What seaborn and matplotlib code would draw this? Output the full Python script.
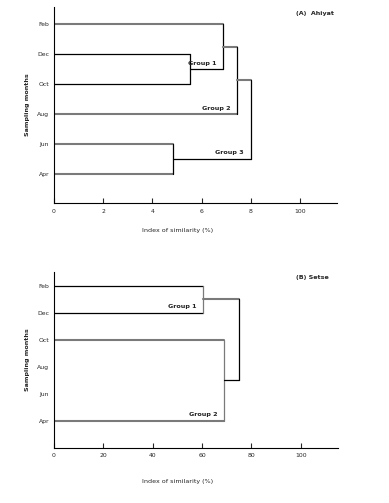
import numpy as np
import pandas as pd
import matplotlib
matplotlib.use("Agg")
import matplotlib.pyplot as plt
import seaborn as sns

sns.set_theme(style="ticks")
plt.rcParams['font.family'] = ['DejaVu Sans']

# sampling months, top to bottom
months = ["Feb", "Dec", "Oct", "Aug", "Jun", "Apr"]

# x axis ticks (similarity %) and their printed labels
x_ticks = [0, 20, 40, 60, 80, 100]
ahiyat_tick_labels = ["0", "2", "4", "6", "8", "100"]
setse_tick_labels = ["0", "20", "40", "60", "80", "100"]

# merges: (node name, children, similarity level)
ahiyat_links = [
    ("g1a", ["Dec", "Oct"], 55.2),
    ("Group 1", ["Feb", "g1a"], 68.7),
    ("Group 2", ["Group 1", "Aug"], 74.4),
    ("g3a", ["Jun", "Apr"], 48.4),
    ("Group 3", ["Group 2", "g3a"], 80.0),
]
setse_links = [
    ("Group 1", ["Feb", "Dec"], 60.5),
    ("Group 2", ["Oct", "Apr"], 69.1),
    ("top", ["Group 1", "Group 2"], 74.8),
]

# branches drawn in grey (the rest are black)
ahiyat_grey = ["Feb", "Aug", "Jun", "Apr", "Group 1", "Group 2"]
setse_grey = ["Oct", "Apr", "Group 1", "v:Group 2", "v:Group 1"]

GREY = "#7a7a7a"


def draw_dendro(ax, links, grey, tick_labels, title, title_x):
    ypos = {m: len(months) - 1 - i for i, m in enumerate(months)}
    xpos = {m: 0.0 for m in months}
    for name, kids, h in links:
        ys = [ypos[k] for k in kids]
        for k in kids:
            col = GREY if k in grey else "black"
            lw = 1.5 if k in grey else 0.9
            sns.lineplot(x=[xpos[k], h], y=[ypos[k], ypos[k]], ax=ax,
                         color=col, lw=lw, sort=False, estimator=None)
        vcol = GREY if ("v:" + name) in grey else "black"
        sns.lineplot(x=[h, h], y=[min(ys), max(ys)], ax=ax, color=vcol,
                     lw=0.9, sort=False, estimator=None)
        ypos[name] = np.mean(ys)
        xpos[name] = h
        if name.startswith("Group"):
            ax.annotate(name, (h, min(ys)), xytext=(-5, 2.5),
                        textcoords="offset points", ha="right", va="bottom",
                        fontsize=4.6, fontweight="bold", color="#222222")

    ax.set_xlim(0, 115)
    ax.set_xticks(x_ticks)
    ax.set_xticklabels(tick_labels)
    ax.set_yticks([ypos[m] for m in months])
    ax.set_yticklabels(months)
    ax.tick_params(axis="x", direction="in", length=3.6, width=0.8,
                   labelsize=4.4, pad=4)
    ax.tick_params(axis="y", length=0, labelsize=4.4, pad=3.5)
    sns.despine(ax=ax)
    for s in ["left", "bottom"]:
        ax.spines[s].set_linewidth(0.8)
        ax.spines[s].set_color("black")
    ax.set_xlabel("")
    ax.set_ylabel("")
    ax.text(-0.095, 0.5, "Sampling months", transform=ax.transAxes,
            rotation=90, ha="center", va="center", fontsize=4.6,
            fontweight="bold")
    ax.text(title_x, 0.965, title, transform=ax.transAxes, ha="right",
            va="center", fontsize=4.6, fontweight="bold")


fig = plt.figure(figsize=(3.89, 5.03), dpi=100)
ax1 = fig.add_axes([0.1388, 0.5964, 0.7275, 0.3897])
ax2 = fig.add_axes([0.1388, 0.1099, 0.7293, 0.3499])
ax1.set_ylim(-0.97, 5.57)
ax2.set_ylim(-0.99, 5.51)

draw_dendro(ax1, ahiyat_links, ahiyat_grey, ahiyat_tick_labels,
            "(A)  Ahiyat", 0.99)
draw_dendro(ax2, setse_links, setse_grey, setse_tick_labels,
            "(B) Setse", 0.97)

ax1.text(0.435, -0.14, "Index of similarity (%)", transform=ax1.transAxes,
         ha="center", va="center", fontsize=4.6)
ax2.text(0.435, -0.19, "Index of similarity (%)", transform=ax2.transAxes,
         ha="center", va="center", fontsize=4.6)

fig.savefig("out.png", dpi=100)
